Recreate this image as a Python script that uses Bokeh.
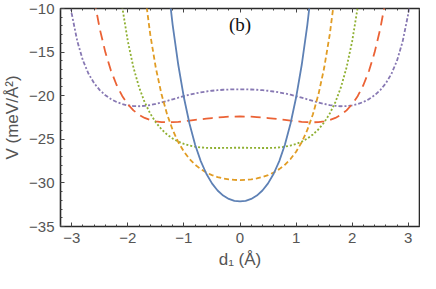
from bokeh.plotting import figure
from bokeh.models import Label, SingleIntervalTicker, Range1d, LinearAxis, CustomJSTickFormatter
from bokeh.embed import file_html
from bokeh.resources import INLINE

# ---- data (d1 in Å, V in meV/Å^2) ----
blue_d = [-1.3, -1.2, -1.1, -1.0, -0.9, -0.8, -0.7, -0.6, -0.5, -0.4, -0.3, -0.2, -0.1, 0.0,
          0.1, 0.2, 0.3, 0.4, 0.5, 0.6, 0.7, 0.8, 0.9, 1.0, 1.1, 1.2, 1.3]
blue_v = [-6.35, -11.9, -16.48, -20.21, -23.22, -25.62, -27.5, -28.95, -30.06, -30.87, -31.45, -31.84, -32.06, -32.13,
          -32.06, -31.84, -31.45, -30.87, -30.06, -28.95, -27.5, -25.62, -23.22, -20.21, -16.48, -11.9, -6.35]

orange_d = [-1.7, -1.6, -1.5, -1.4, -1.3, -1.2, -1.1, -1.0, -0.9, -0.8, -0.7, -0.6, -0.5, -0.4, -0.3, -0.2, -0.1, 0.0,
            0.1, 0.2, 0.3, 0.4, 0.5, 0.6, 0.7, 0.8, 0.9, 1.0, 1.1, 1.2, 1.3, 1.4, 1.5, 1.6, 1.7]
orange_v = [-8.03, -12.98, -16.83, -19.81, -22.13, -23.93, -25.33, -26.42, -27.26, -27.92, -28.42, -28.81, -29.11, -29.33,
            -29.49, -29.59, -29.66, -29.68,
            -29.66, -29.59, -29.49, -29.33, -29.11, -28.81, -28.42, -27.92, -27.26, -26.42, -25.33, -23.93, -22.13,
            -19.81, -16.83, -12.98, -8.03]

green_d = [-2.1, -2.0, -1.9, -1.8, -1.7, -1.6, -1.5, -1.4, -1.3, -1.2, -1.1, -1.0, -0.9, -0.8, -0.7, -0.6, -0.5, -0.4,
           -0.3, -0.2, -0.1, 0.0, 0.1, 0.2, 0.3, 0.4, 0.5, 0.6, 0.7, 0.8, 0.9, 1.0, 1.1, 1.2, 1.3, 1.4, 1.5, 1.6,
           1.7, 1.8, 1.9, 2.0, 2.1]
green_v = [-9.79, -13.75, -16.75, -19.02, -20.74, -22.05, -23.07, -23.85, -24.45, -24.92, -25.27, -25.53, -25.72,
           -25.85, -25.93, -25.98, -26.0, -26.0, -25.99, -25.98, -25.97, -25.97, -25.97, -25.98, -25.99, -26.0, -26.0,
           -25.98, -25.93, -25.85, -25.72, -25.53, -25.27, -24.92, -24.45, -23.85, -23.07, -22.05, -20.74, -19.02,
           -16.75, -13.75, -9.79]

red_d = [-2.6, -2.5, -2.4, -2.3, -2.2, -2.1, -2.0, -1.9, -1.8, -1.7, -1.6, -1.5, -1.4, -1.3, -1.2, -1.1, -1.0, -0.9,
         -0.8, -0.7, -0.6, -0.5, -0.4, -0.3, -0.2, -0.1, 0.0, 0.1, 0.2, 0.3, 0.4, 0.5, 0.6, 0.7, 0.8, 0.9, 1.0, 1.1,
         1.2, 1.3, 1.4, 1.5, 1.6, 1.7, 1.8, 1.9, 2.0, 2.1, 2.2, 2.3, 2.4, 2.5, 2.6]
red_v = [-8.93, -12.34, -15.03, -17.14, -18.77, -20.03, -20.97, -21.68, -22.19, -22.55, -22.79, -22.94, -23.02,
         -23.05, -23.04, -22.99, -22.93, -22.86, -22.78, -22.7, -22.63, -22.56, -22.5, -22.45, -22.41, -22.39,
         -22.38,
         -22.39, -22.41, -22.45, -22.5, -22.56, -22.63, -22.7, -22.78, -22.86, -22.93, -22.99, -23.04, -23.05,
         -23.02, -22.94, -22.79, -22.55, -22.19, -21.68, -20.97, -20.03, -18.77, -17.14, -15.03, -12.34, -8.93]

purple_d = [-3.1, -3.0, -2.9, -2.8, -2.7, -2.6, -2.5, -2.4, -2.3, -2.2, -2.1, -2.0, -1.9, -1.8, -1.7, -1.6, -1.5,
            -1.4, -1.3, -1.2, -1.1, -1.0, -0.9, -0.8, -0.7, -0.6, -0.5, -0.4, -0.3, -0.2, -0.1, 0.0, 0.1, 0.2, 0.3,
            0.4, 0.5, 0.6, 0.7, 0.8, 0.9, 1.0, 1.1, 1.2, 1.3, 1.4, 1.5, 1.6, 1.7, 1.8, 1.9, 2.0, 2.1, 2.2, 2.3, 2.4,
            2.5, 2.6, 2.7, 2.8, 2.9, 3.0, 3.1]
purple_v = [-5.97, -10.6, -13.77, -15.96, -17.49, -18.57, -19.36, -19.95, -20.39, -20.72, -20.96, -21.11, -21.19,
            -21.21, -21.16, -21.07, -20.94, -20.78, -20.6, -20.41, -20.23, -20.05, -19.89, -19.74, -19.62, -19.52,
            -19.43, -19.37, -19.32, -19.29, -19.27, -19.27, -19.27, -19.29, -19.32, -19.37, -19.43, -19.52, -19.62,
            -19.74, -19.89, -20.05, -20.23, -20.41, -20.6, -20.78, -20.94, -21.07, -21.16, -21.21, -21.19, -21.11,
            -20.96, -20.72, -20.39, -19.95, -19.36, -18.57, -17.49, -15.96, -13.77, -10.6, -5.97]

x_label = "d₁ (Å)"
y_label = "V (meV/Å²)"
panel_label = "(b)"

p = figure(width=420, height=273, output_backend="svg", toolbar_location=None,
           x_range=Range1d(-3.2, 3.2), y_range=Range1d(-35, -10),
           min_border_left=53, min_border_right=1, min_border_top=8, min_border_bottom=47)

series = [
    (purple_d, purple_v, "#8778B3", "4 2 2 2"),
    (red_d, red_v, "#EB6235", "10 6"),
    (green_d, green_v, "#8FB032", "2 2"),
    (orange_d, orange_v, "#E19C24", "5 3"),
    (blue_d, blue_v, "#5E81B5", "solid"),
]
for d, v, c, dash in series:
    p.line(d, v, color=c, line_width=1.8, line_dash=dash)

p.grid.visible = False
bottom_ax = p.xaxis[0]
left_ax = p.yaxis[0]
bottom_ax.ticker = SingleIntervalTicker(interval=1, num_minor_ticks=5)
left_ax.ticker = SingleIntervalTicker(interval=5, num_minor_ticks=5)
bottom_ax.axis_label = x_label
left_ax.axis_label = y_label

for ax in [bottom_ax, left_ax]:
    ax.major_label_text_font = "Liberation Sans"
    ax.major_label_text_font_size = "15px"
    ax.major_label_text_color = "#555555"
    ax.axis_label_text_font = "Liberation Sans"
    ax.axis_label_text_font_size = "17px"
    ax.axis_label_text_font_style = "normal"
    ax.axis_label_text_color = "#555555"
    ax.major_label_standoff = 6
    ax.axis_label_standoff = 4

top_ax = LinearAxis(ticker=SingleIntervalTicker(interval=1, num_minor_ticks=5),
                    formatter=CustomJSTickFormatter(code="return ''"))
top_ax.major_label_standoff = 0
top_ax.axis_label_standoff = 0
p.add_layout(top_ax, "above")

for ax in [bottom_ax, left_ax, top_ax]:
    ax.major_tick_in = 4
    ax.major_tick_out = 0
    ax.minor_tick_in = 2
    ax.minor_tick_out = 0
    ax.major_tick_line_color = "#444444"
    ax.minor_tick_line_color = "#444444"
    ax.axis_line_color = None
p.outline_line_color = "#2a2a2a"
p.outline_line_width = 1.6

p.add_layout(Label(x=0, y=-11.8, text=panel_label, text_align="center", text_baseline="middle",
                   text_font="Liberation Serif", text_font_size="19px", text_color="#111111"))

open("out.html", "w").write(file_html(p, INLINE))
